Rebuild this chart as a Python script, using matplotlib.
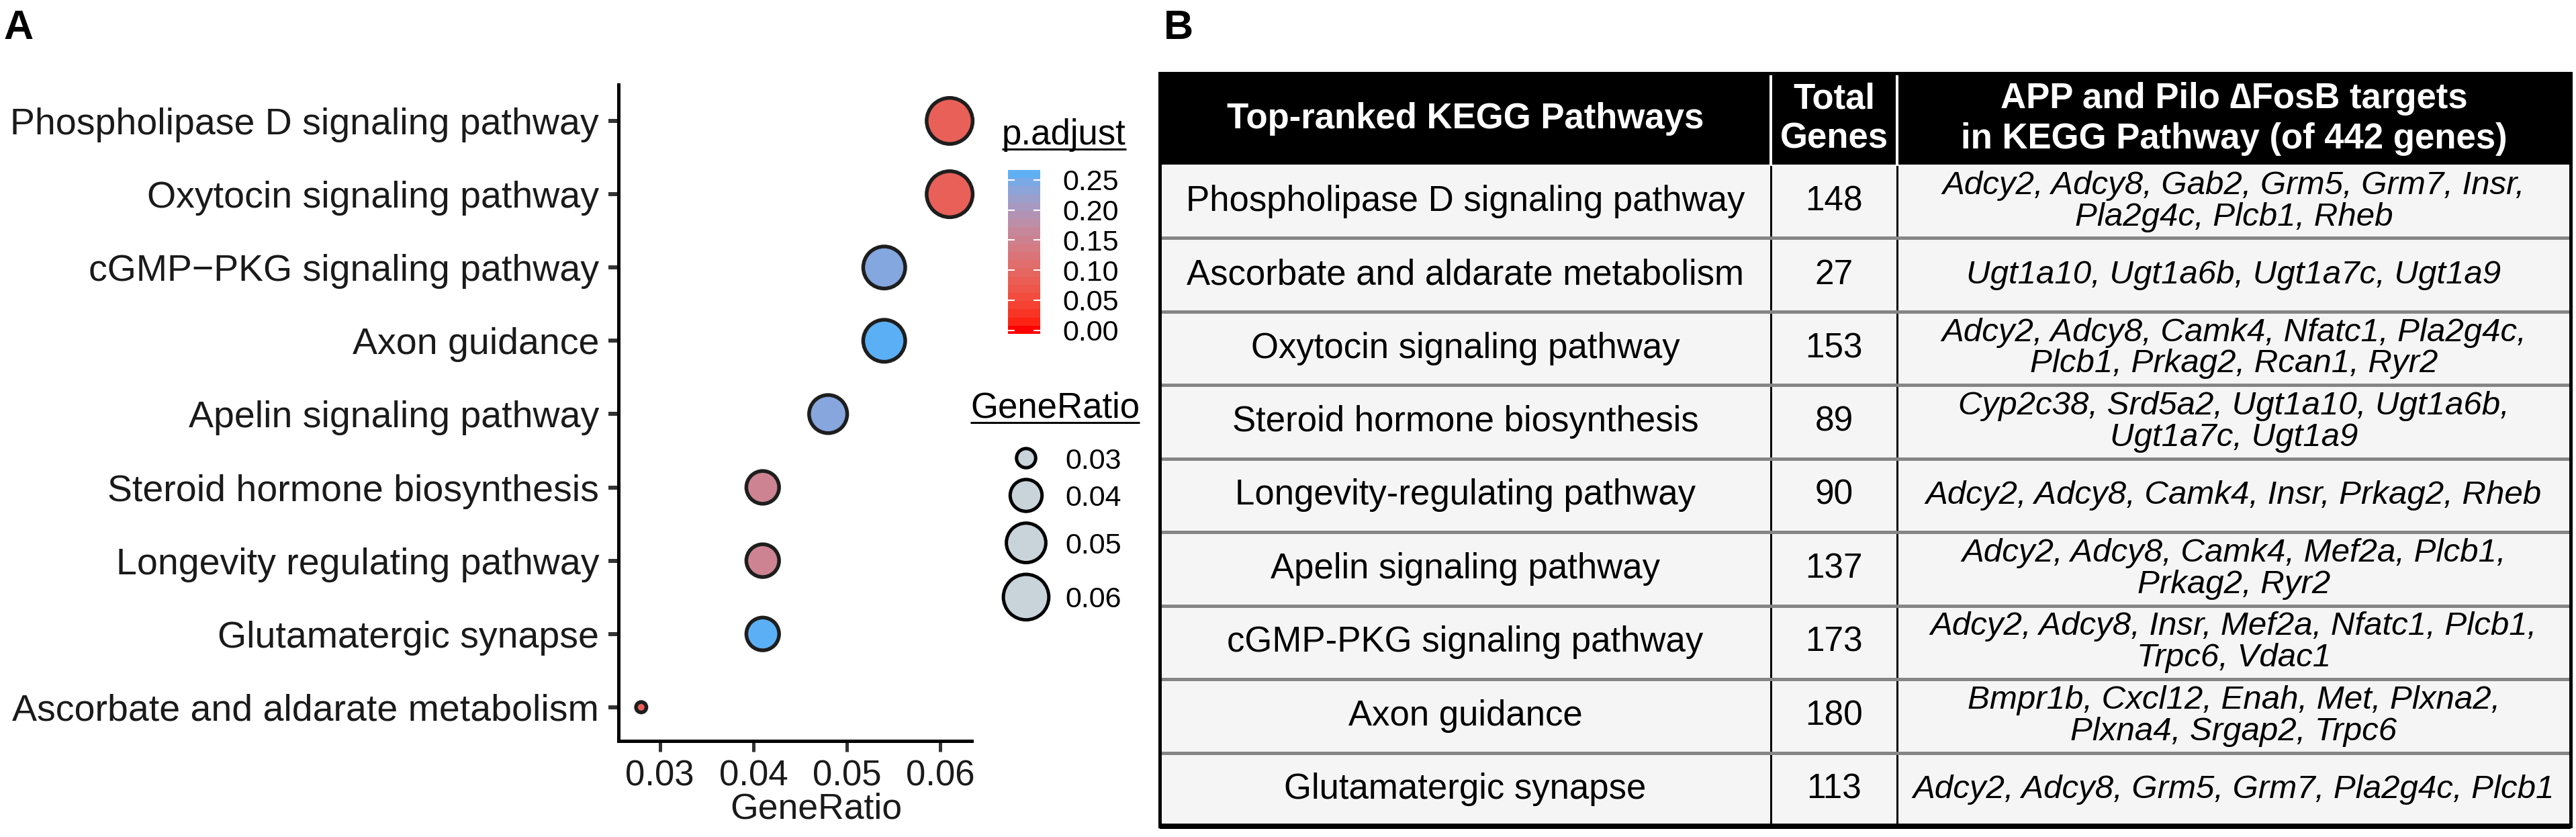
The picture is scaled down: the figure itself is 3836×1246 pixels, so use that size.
import numpy as np
import matplotlib
matplotlib.use("Agg")
import matplotlib.pyplot as plt
import matplotlib.colors as mcolors
from matplotlib.patches import Rectangle

plt.rcParams['font.family'] = ['Liberation Sans', 'DejaVu Sans']

W, H = 3836, 1246
DPI = 100
PT = 72 / DPI  # points per pixel

# ---- panel A data (top to bottom) ----
plot_terms = ["Phospholipase D signaling pathway", "Oxytocin signaling pathway",
              "cGMP\u2212PKG signaling pathway", "Axon guidance",
              "Apelin signaling pathway", "Steroid hormone biosynthesis",
              "Longevity regulating pathway", "Glutamatergic synapse",
              "Ascorbate and aldarate metabolism"]
gene_ratio = [0.061, 0.061, 0.054, 0.054, 0.048, 0.041, 0.041, 0.041, 0.028]
p_adjust = [0.085, 0.085, 0.240, 0.262, 0.238, 0.153, 0.153, 0.262, 0.085]
x_breaks = [0.03, 0.04, 0.05, 0.06]
size_breaks = [0.03, 0.04, 0.05, 0.06]
p_breaks = [0.00, 0.05, 0.10, 0.15, 0.20, 0.25]

# ---- panel B data ----
table_header = ["Top-ranked KEGG Pathways", "Total\nGenes",
                "APP and Pilo \u2206FosB targets\nin KEGG Pathway (of 442 genes)"]
table_pathways = ["Phospholipase D signaling pathway", "Ascorbate and aldarate metabolism",
                  "Oxytocin signaling pathway", "Steroid hormone biosynthesis",
                  "Longevity-regulating pathway", "Apelin signaling pathway",
                  "cGMP-PKG signaling pathway", "Axon guidance", "Glutamatergic synapse"]
table_total = [148, 27, 153, 89, 90, 137, 173, 180, 113]
table_targets = ["Adcy2, Adcy8, Gab2, Grm5, Grm7, Insr,\nPla2g4c, Plcb1, Rheb",
                 "Ugt1a10, Ugt1a6b, Ugt1a7c, Ugt1a9",
                 "Adcy2, Adcy8, Camk4, Nfatc1, Pla2g4c,\nPlcb1, Prkag2, Rcan1, Ryr2",
                 "Cyp2c38, Srd5a2, Ugt1a10, Ugt1a6b,\nUgt1a7c, Ugt1a9",
                 "Adcy2, Adcy8, Camk4, Insr, Prkag2, Rheb",
                 "Adcy2, Adcy8, Camk4, Mef2a, Plcb1,\nPrkag2, Ryr2",
                 "Adcy2, Adcy8, Insr, Mef2a, Nfatc1, Plcb1,\nTrpc6, Vdac1",
                 "Bmpr1b, Cxcl12, Enah, Met, Plxna2,\nPlxna4, Srgap2, Trpc6",
                 "Adcy2, Adcy8, Grm5, Grm7, Pla2g4c, Plcb1"]


# ggplot-like gradient (interpolated in Lab)
def to_lab(c):
    rgb = np.array(mcolors.to_rgb(c))
    lin = np.where(rgb <= 0.04045, rgb / 12.92, ((rgb + 0.055) / 1.055) ** 2.4)
    M = np.array([[0.4124, 0.3576, 0.1805], [0.2126, 0.7152, 0.0722], [0.0193, 0.1192, 0.9505]])
    xyz = M @ lin / np.array([0.95047, 1.0, 1.08883])
    f = np.where(xyz > (6 / 29) ** 3, np.cbrt(xyz), xyz / (3 * (6 / 29) ** 2) + 4 / 29)
    return np.array([116 * f[1] - 16, 500 * (f[0] - f[1]), 200 * (f[1] - f[2])])


def from_lab(lab):
    fy_ = (lab[0] + 16) / 116
    f = np.array([fy_ + lab[1] / 500, fy_, fy_ - lab[2] / 200])
    xyz = np.where(f > 6 / 29, f ** 3, 3 * (6 / 29) ** 2 * (f - 4 / 29)) * np.array([0.95047, 1.0, 1.08883])
    Minv = np.linalg.inv(np.array([[0.4124, 0.3576, 0.1805], [0.2126, 0.7152, 0.0722], [0.0193, 0.1192, 0.9505]]))
    lin = np.clip(Minv @ xyz, 0, 1)
    rgb = np.where(lin <= 0.0031308, 12.92 * lin, 1.055 * lin ** (1 / 2.4) - 0.055)
    return np.clip(rgb, 0, 1)


lo_lab, hi_lab = to_lab("#FF0000"), to_lab("#56B1F7")
cmap = mcolors.ListedColormap([from_lab(lo_lab + t * (hi_lab - lo_lab)) for t in np.linspace(0, 1, 256)])
norm = mcolors.Normalize(vmin=0.0, vmax=0.265)

g = np.array(gene_ratio)
gmin, gmax = g.min(), g.max()
EDGE_PX = 5.5


def dot_diam(v):
    # overall diameter in pixels (ggplot-like area scaling)
    return 21 + 53 * np.sqrt(np.clip((np.asarray(v) - gmin) / (gmax - gmin), 0, 1))


def dot_s(v):
    return ((dot_diam(v) - EDGE_PX) * PT) ** 2


def rect(x0, y0, x1, y1):
    return [x0 / W, 1 - y1 / H, (x1 - x0) / W, (y1 - y0) / H]


fig = plt.figure(figsize=(W / DPI, H / DPI), dpi=DPI)

# ---------------- panel A ----------------
ax = fig.add_axes(rect(921, 126, 1447, 1103))
ypos = np.arange(len(plot_terms))[::-1] + 1
ax.scatter(gene_ratio, ypos, s=dot_s(g), c=p_adjust, cmap=cmap, norm=norm,
           edgecolors="#1E1E1E", linewidths=EDGE_PX * PT, zorder=3, clip_on=False)
ax.set_yticks(ypos)
ax.set_yticklabels(plot_terms)
ax.set_xticks(x_breaks)
ax.set_xticklabels(["%.2f" % v for v in x_breaks])
ax.set_xlim(0.02557, 0.06336)
ax.set_ylim(0.54, 9.495)
for s in ["top", "right"]:
    ax.spines[s].set_visible(False)
for s in ["left", "bottom"]:
    ax.spines[s].set_linewidth(5 * PT)
    ax.spines[s].set_color("black")
ax.tick_params(axis="y", length=15 * PT, width=6 * PT, color="#333333", pad=10,
               labelsize=40, labelcolor="#1A1A1A")
ax.tick_params(axis="x", length=16 * PT, width=5 * PT, color="#333333", pad=8,
               labelsize=38, labelcolor="#1A1A1A")
ax.set_xlabel("GeneRatio", fontsize=38.5, color="#1A1A1A")
ax.xaxis.set_label_coords(0.559, -0.078)

# overlay in pixel coordinates for legends and letters
ov = fig.add_axes([0, 0, 1, 1])
ov.set_xlim(0, W)
ov.set_ylim(H, 0)
ov.axis("off")
renderer = fig.canvas.get_renderer()


def title_underlined(x, y, s):
    t = ov.text(x, y, s, fontsize=38, va="baseline", ha="left")
    w = t.get_window_extent(renderer).width
    ov.plot([x, x + w], [y + 7, y + 7], color="black", lw=3 * PT, solid_capstyle="butt")


title_underlined(1492, 215, "p.adjust")
title_underlined(1445, 622, "GeneRatio")

# colour bar
cax = fig.add_axes(rect(1501, 253, 1549, 497))
lo, hi = -0.006, 0.2667
edges = np.linspace(lo, hi, 21)
vals = (edges[:-1] + edges[1:]) / 2
cax.imshow(vals[:, None], origin="lower", extent=[0, 1, lo, hi], aspect="auto",
           cmap=cmap, norm=norm, interpolation="nearest")
cax.set_xlim(0, 1)
cax.set_ylim(lo, hi)
cax.set_xticks([])
cax.yaxis.tick_right()
cax.set_yticks(p_breaks)
cax.set_yticklabels(["%.2f" % v for v in p_breaks])
cax.tick_params(axis="y", length=0, pad=24, labelsize=31)
for s in cax.spines.values():
    s.set_visible(False)
cax.hlines(p_breaks, 0, 0.2, colors="white", lw=1.5)
cax.hlines(p_breaks, 0.8, 1, colors="white", lw=1.5)

# size legend
d_keys = dot_diam(size_breaks)
h_keys = d_keys + 12
centers = 682 + np.concatenate([[0], np.cumsum((h_keys[:-1] + h_keys[1:]) / 2)])
ov.scatter([1528] * len(size_breaks), centers, s=dot_s(size_breaks), facecolor="#C9D3DA",
           edgecolors="black", linewidths=5 * PT, clip_on=False)
for c, v in zip(centers, size_breaks):
    ov.text(1586, c, "%.2f" % v, fontsize=31, va="center_baseline", ha="left")

ov.text(5, 58, "A", fontsize=44, fontweight="bold", va="baseline")
ov.text(1733, 58, "B", fontsize=44, fontweight="bold", va="baseline")

# ---------------- panel B ----------------
tax = fig.add_axes(rect(1727, 109, 3828, 1230))
n = len(table_pathways)
hdr_h = 1.242
total = hdr_h + n
tax.set_xlim(0, 1)
tax.set_ylim(total, 0)
tax.axis("off")
col_edges = [0, 0.4331, 0.5226, 1.0]
col_mid = [(a + b) / 2 for a, b in zip(col_edges[:-1], col_edges[1:])]

tax.add_patch(Rectangle((0, 0), 1, hdr_h, fc="black", ec="none"))
tax.add_patch(Rectangle((0, hdr_h), 1, n, fc="#F5F5F5", ec="none"))
for xm, txt in zip(col_mid, table_header):
    tax.text(xm, hdr_h / 2, txt, color="white", fontweight="bold", fontsize=38,
             ha="center", va="center", linespacing=1.25)

for i in range(n):
    yc = hdr_h + i + 0.5
    tax.text(col_mid[0], yc, table_pathways[i], fontsize=38, ha="center", va="center")
    tax.text(col_mid[1], yc, str(table_total[i]), fontsize=37, ha="center", va="center")
    tax.text(col_mid[2], yc, table_targets[i], fontsize=35.5, style="italic",
             ha="center", va="center", linespacing=1.05)

for e in col_edges[1:-1]:
    tax.plot([e, e], [hdr_h, total], color="black", lw=3 * PT, zorder=3)
    tax.plot([e, e], [0, hdr_h], color="white", lw=4 * PT, zorder=3)
for k in range(1, n):
    tax.plot([0, 1], [hdr_h + k, hdr_h + k], color="#858585", lw=5 * PT, zorder=4,
             solid_capstyle="butt")
tax.add_patch(Rectangle((0, 0), 1, total, fill=False, ec="black", lw=5 * PT, zorder=5,
                        clip_on=False))
tax.plot([0, 1], [total, total], color="black", lw=8 * PT, zorder=5, clip_on=False,
         solid_capstyle="butt")

fig.savefig("out.png", dpi=DPI)
